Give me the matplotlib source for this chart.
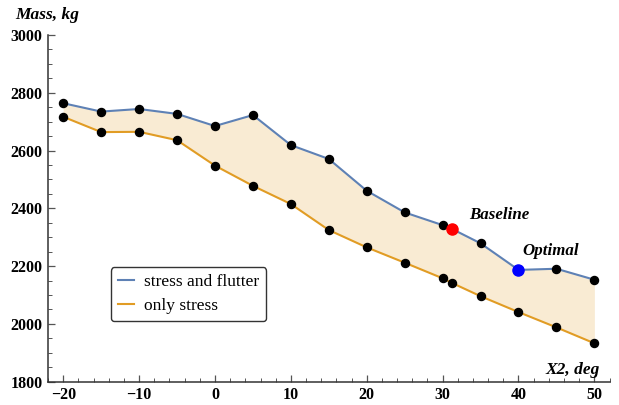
import numpy as np
import matplotlib.pyplot as plt
from matplotlib.ticker import MultipleLocator

plt.rcParams['font.family'] = ['Liberation Serif', 'DejaVu Serif']

# 数据
x2 = [-20, -15, -10, -5, 0, 5, 10, 15, 20, 25, 30, 31.3, 35, 40, 45, 50]
mass_flutter = [2764, 2735, 2744, 2727, 2685, 2723, 2619, 2571, 2461, 2386,
                2342, 2328, 2279, 2187, 2191, 2153]
mass_stress = [2717, 2664, 2665, 2636, 2548, 2478, 2415, 2325, 2265, 2212,
               2158, 2141, 2096, 2041, 1988, 1933]
baseline = (31.3, 2328)
optimal = (40, 2187)

blue = '#5e81b5'
orange = '#e19c24'

fig = plt.figure(figsize=(6.19, 4.05), dpi=100)
ax = fig.add_axes([0.0776, 0.0575, 0.908, 0.856])

ax.fill_between(x2, mass_stress, mass_flutter, color=orange, alpha=0.2, lw=0)
ax.plot(x2, mass_flutter, color=blue, lw=1.5, label='stress and flutter')
ax.plot(x2, mass_stress, color=orange, lw=1.5, label='only stress')
ax.plot(x2, mass_flutter, 'o', color='black', ms=5.8, ls='none')
ax.plot(x2, mass_stress, 'o', color='black', ms=5.8, ls='none')
ax.plot(*baseline, 'o', color='red', ms=8)
ax.plot(*optimal, 'o', color='blue', ms=8)

ax.text(37.5, 2377, 'Baseline', ha='center', va='center', style='italic',
        fontweight='bold', fontsize=12.2)
ax.text(44.3, 2252, 'Optimal', ha='center', va='center', style='italic',
        fontweight='bold', fontsize=12.2)

ax.set_xlim(-22, 52.07)
ax.set_ylim(1800, 3000)
ax.xaxis.set_major_locator(MultipleLocator(10))
ax.xaxis.set_minor_locator(MultipleLocator(2))
ax.yaxis.set_major_locator(MultipleLocator(200))
ax.yaxis.set_minor_locator(MultipleLocator(50))

for s in ['top', 'right']:
    ax.spines[s].set_visible(False)
for s in ['left', 'bottom']:
    ax.spines[s].set_color('#333333')
    ax.spines[s].set_linewidth(1.1)

ax.tick_params(which='major', direction='in', length=5, width=0.9,
               color='#555555', labelsize=11.5, pad=4)
ax.tick_params(which='minor', direction='in', length=3, width=0.7,
               color='#555555')
for lbl in ax.get_xticklabels() + ax.get_yticklabels():
    lbl.set_fontweight('bold')

fig.text(15 / 619, 1 - 15 / 405, 'Mass, kg', ha='left', va='center',
         style='italic', fontweight='bold', fontsize=12.5)
fig.text(600 / 619, 1 - 370 / 405, 'X2, deg', ha='right', va='center',
         style='italic', fontweight='bold', fontsize=12.5)

leg = ax.legend(loc='lower left', bbox_to_anchor=(0.112, 0.175),
                borderaxespad=0, fontsize=12.5, handlelength=0.9,
                handletextpad=0.6, labelspacing=0.45, frameon=True,
                fancybox=True, edgecolor='#333333', framealpha=1)
leg.get_frame().set_linewidth(1.0)

fig.savefig('out.png', dpi=100)
